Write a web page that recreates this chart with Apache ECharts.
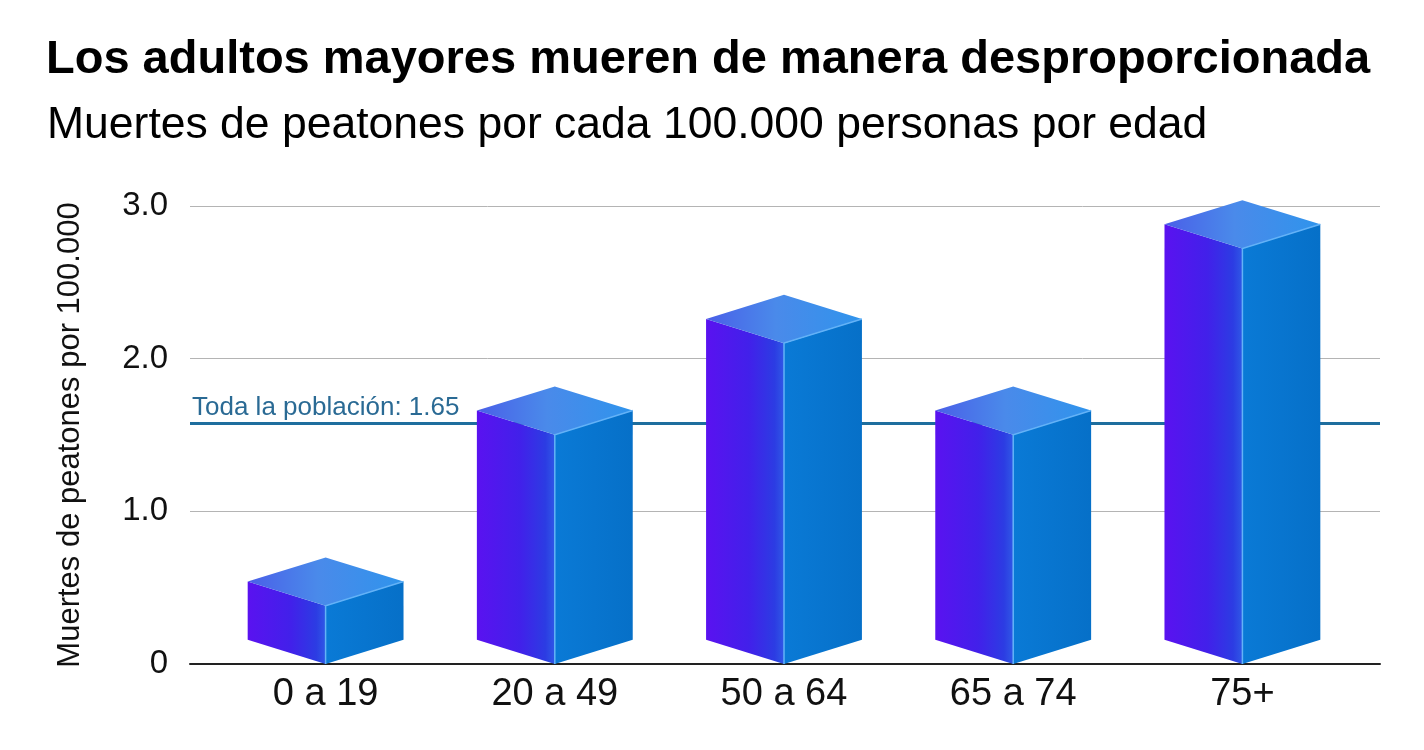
<!DOCTYPE html>
<html>
<head>
<meta charset="utf-8">
<title>Muertes de peatones por edad</title>
<script src="https://cdn.jsdelivr.net/npm/echarts@6/dist/echarts.min.js"></script>
<style>
	html, body {margin: 0; padding: 0; background: #ffffff;}
	#chart {width: 1424px; height: 750px;}
</style>
</head>
<body>
<div id="chart"></div>
<script>
// datos
var categorias = ['0 a 19', '20 a 49', '50 a 64', '65 a 74', '75+'];
var muertes = [0.54, 1.66, 2.26, 1.66, 2.88];
var marcasY = [0, 1, 2, 3];
var poblacionTotal = 1.65;   // valor del rotulo
var lineaPoblacion = 1.58;   // altura a la que se dibuja la linea

var fuente = "'Liberation Sans', Arial, Helvetica, sans-serif";

// cara izquierda, derecha y superior de cada prisma
function dibujarPrisma(params, api) {
	var idx = api.value(0);
	var v = api.value(1);
	var arriba = api.coord([idx, v]);
	var base = api.coord([idx, 0]);
	var w = api.size([1, 0])[0] * 0.34;//medio ancho
	var d = w * 0.31;//profundidad
	var cx = arriba[0], yt = arriba[1], yb = base[1];

	var izq = [[cx - w, yb - d], [cx, yb], [cx, yt + d], [cx - w, yt]];
	var der = [[cx, yb], [cx + w, yb - d], [cx + w, yt], [cx, yt + d]];
	var sup = [[cx - w, yt], [cx, yt + d], [cx + w, yt], [cx, yt - d]];

	return {
		type: 'group',
		children: [
			{
				type: 'polygon', shape: {points: izq},
				style: {fill: new echarts.graphic.LinearGradient(0, 0, 1, 0, [
					{offset: 0, color: '#5a12f0'},
					{offset: 0.55, color: '#4220ea'},
					{offset: 0.88, color: '#2c3ce3'},
					{offset: 1, color: '#2f58e6'}
				])}
			},
			{
				type: 'polygon', shape: {points: der},
				style: {fill: new echarts.graphic.LinearGradient(0, 0, 1, 0, [
					{offset: 0, color: '#0a7ad6'},
					{offset: 1, color: '#0670c8'}
				])}
			},
			{
				type: 'polygon', shape: {points: sup},
				style: {fill: new echarts.graphic.LinearGradient(0, 0, 1, 0, [
					{offset: 0, color: '#4a5fe8'},
					{offset: 0.45, color: '#4a8aea'},
					{offset: 1, color: '#2f94ec'}
				])}
			},
			{
				type: 'polyline', shape: {points: [[cx, yb], [cx, yt + d], [cx + w, yt]]},
				style: {stroke: '#63b2f7', lineWidth: 1.5, fill: null}
			}
		]
	};
}

var option = {
	backgroundColor: '#ffffff',
	animation: false,
	title: [
		{text: 'Los adultos mayores mueren de manera desproporcionada', left: 46, top: 37, padding: 0,
			textStyle: {fontFamily: fuente, fontSize: 47, fontWeight: 'bold', color: '#000000'}},
		{text: 'Muertes de peatones por cada 100.000 personas por edad', left: 47, top: 103, padding: 0,
			textStyle: {fontFamily: fuente, fontSize: 44.5, fontWeight: 'normal', color: '#000000'}}
	],
	grid: [
		{left: 190, right: 44, top: 206, bottom: 86},//rejilla y eje
		{left: 211, right: 67, top: 206, bottom: 86}//barras
	],
	xAxis: [
		{
			type: 'value', gridIndex: 0, min: 0, max: 1,
			axisLine: {show: true, onZero: false, lineStyle: {color: '#222222', width: 2}},
			axisTick: {show: false}, axisLabel: {show: false}, splitLine: {show: false}
		},
		{
			type: 'category', gridIndex: 1, data: categorias,
			axisLine: {show: false}, axisTick: {show: false},
			axisLabel: {fontFamily: fuente, fontSize: 38, color: '#111111', margin: 12}
		}
	],
	yAxis: [
		{
			type: 'value', gridIndex: 0, min: marcasY[0], max: marcasY[marcasY.length - 1], interval: 1,
			name: 'Muertes de peatones por 100.000', nameLocation: 'middle', nameGap: 104, nameRotate: 90,
			nameTextStyle: {fontFamily: fuente, fontSize: 31, color: '#111111'},
			axisLine: {show: false}, axisTick: {show: false},
			axisLabel: {fontFamily: fuente, fontSize: 33, color: '#111111', margin: 22,
				formatter: function (v) { return v == 0 ? '0' : v.toFixed(1); }},
			splitLine: {show: true, lineStyle: {color: '#b4b4b4', width: 1}}
		},
		{
			type: 'value', gridIndex: 1, min: marcasY[0], max: marcasY[marcasY.length - 1], show: false
		}
	],
	series: [
		{
			name: 'Toda la población',
			type: 'line', xAxisIndex: 0, yAxisIndex: 0, z: 1,
			data: [],
			markLine: {
				silent: true, symbol: 'none', z: 1,
				lineStyle: {color: '#1e6e9e', width: 3, type: 'solid'},
				label: {
					position: 'insideStartTop', distance: [2, 2],
					formatter: 'Toda la población: ' + poblacionTotal,
					fontFamily: fuente, fontSize: 26, color: '#2a6a94'
				},
				data: [{yAxis: lineaPoblacion}]
			}
		},
		{
			name: 'Muertes',
			type: 'custom', xAxisIndex: 1, yAxisIndex: 1, z: 10,
			renderItem: dibujarPrisma,
			encode: {x: 0, y: 1},
			data: muertes.map(function (v, i) { return [i, v]; })
		}
	]
};

var myChart = echarts.init(document.getElementById('chart'));
myChart.setOption(option);//cargar grafico
</script>
</body>
</html>
